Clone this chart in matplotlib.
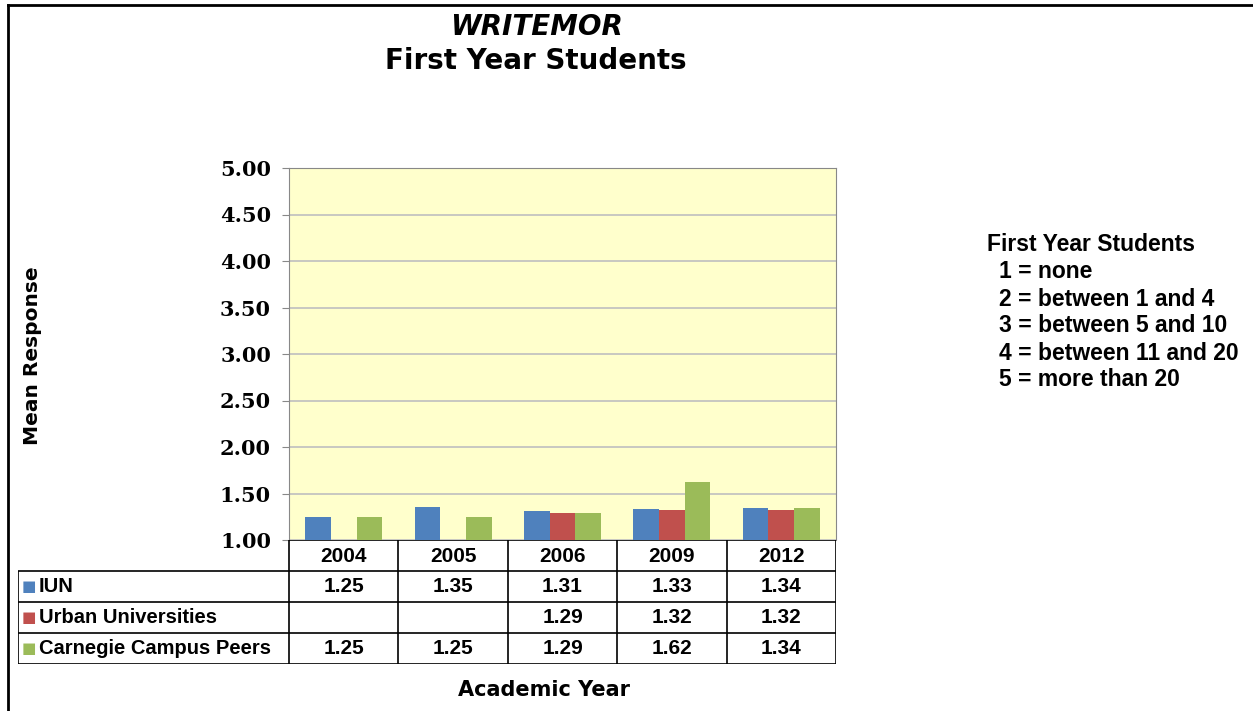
import numpy as np
import matplotlib.pyplot as plt
from matplotlib.lines import Line2D

years = ["2004", "2005", "2006", "2009", "2012"]
series_names = ["IUN", "Urban Universities", "Carnegie Campus Peers"]
iun = [1.25, 1.35, 1.31, 1.33, 1.34]
urban = [np.nan, np.nan, 1.29, 1.32, 1.32]
carnegie = [1.25, 1.25, 1.29, 1.62, 1.34]
colors = ["#4F81BD", "#C0504D", "#9BBB59"]
yticks = [1.0, 1.5, 2.0, 2.5, 3.0, 3.5, 4.0, 4.5, 5.0]
legend_lines = ["1 = none", "2 = between 1 and 4", "3 = between 5 and 10",
                "4 = between 11 and 20", "5 = more than 20"]

W, H = 1253, 711
fig = plt.figure(figsize=(W / 100, H / 100), dpi=100)

def px(x0, y0, x1, y1):
    # pixel box (top-left origin) -> figure fraction rect
    return [x0 / W, 1 - y1 / H, (x1 - x0) / W, (y1 - y0) / H]

sans = ["Liberation Sans", "DejaVu Sans"]
wide = ["DejaVu Sans"]
serif = ["DejaVu Serif"]

# main plot
ax = fig.add_axes(px(289, 168, 836, 540))
ax.set_facecolor("#FFFFCC")
x = np.arange(len(years))
bw = 0.235
for i, (vals, c) in enumerate(zip([iun, urban, carnegie], colors)):
    v = np.array(vals, dtype=float)
    ax.bar(x + (i - 1) * bw, v - 1.0, bw, bottom=1.0, color=c, zorder=3)
ax.set_xlim(-0.5, len(years) - 0.5)
ax.set_ylim(1.0, 5.0)
ax.set_yticks(yticks)
ax.set_yticklabels([f"{t:.2f}" for t in yticks], family=serif,
                   fontweight="bold", fontsize=15)
ax.set_xticks([])
ax.grid(axis="y", color="#BFBFBF", lw=1.2, zorder=0)
ax.tick_params(axis="y", length=5, color="#888888", pad=8)
for s in ["top", "right", "left"]:
    ax.spines[s].set_color("#888888")
ax.spines["bottom"].set_visible(False)

# data table
tab = fig.add_axes(px(18, 540, 836, 664))
tab.set_xlim(18, 836)
tab.set_ylim(664, 540)
tab.axis("off")
col_w = (836 - 289) / len(years)
col_edges = [289 + k * col_w for k in range(len(years) + 1)]
row_edges = [540, 571, 602, 633, 664]
lk = dict(color="black", lw=1.2, solid_capstyle="butt")
for ye in row_edges:
    tab.add_line(Line2D([289 if ye == 540 else 18, 836], [ye, ye], **lk))
for xe in col_edges:
    tab.add_line(Line2D([xe, xe], [540, 664], **lk))
tab.add_line(Line2D([18, 18], [571, 664], **lk))
for j, yr in enumerate(years):
    tab.text((col_edges[j] + col_edges[j + 1]) / 2, 556, yr, ha="center",
             va="center", family=sans, fontweight="bold", fontsize=15)
for r, (name, vals, c) in enumerate(zip(series_names, [iun, urban, carnegie], colors)):
    yc = (row_edges[r + 1] + row_edges[r + 2]) / 2
    tab.text(22, yc, "\u25A0", color=c, ha="left", va="center",
             family=["DejaVu Sans"], fontsize=11)
    tab.text(39, yc, name, ha="left", va="center", family=sans,
             fontweight="bold", fontsize=14.5)
    for j, v in enumerate(vals):
        if not np.isnan(v):
            tab.text((col_edges[j] + col_edges[j + 1]) / 2, yc, f"{v:.2f}",
                     ha="center", va="center", family=sans,
                     fontweight="bold", fontsize=15)

# titles and labels
fig.text(536 / W, 1 - 27 / H, "WRITEMOR", ha="center", va="center",
         family=wide, fontweight="bold", style="italic", fontsize=20)
fig.text(536 / W, 1 - 61 / H, "First Year Students", ha="center", va="center",
         family=wide, fontweight="bold", fontsize=20)
fig.text(33 / W, 1 - 356 / H, "Mean Response", rotation=90, ha="center",
         va="center", family=wide, fontweight="bold", fontsize=14.5)
fig.text(544 / W, 1 - 690 / H, "Academic Year", ha="center", va="center",
         family=wide, fontweight="bold", fontsize=15)

# scale legend
fig.text(987 / W, 1 - 245 / H, "First Year Students", ha="left", va="center",
         family=sans, fontweight="bold", fontsize=16.5)
for k, line in enumerate(legend_lines):
    fig.text(999 / W, 1 - (272 + k * 27) / H, line, ha="left", va="center",
             family=sans, fontweight="bold", fontsize=16.5)

# outer frame (top and left edges)
fig.add_artist(Line2D([8 / W, 1], [1 - 5 / H, 1 - 5 / H], color="black", lw=2,
                      transform=fig.transFigure))
fig.add_artist(Line2D([8 / W, 8 / W], [0, 1 - 5 / H], color="black", lw=2,
                      transform=fig.transFigure))

fig.savefig("out.png", dpi=100)
